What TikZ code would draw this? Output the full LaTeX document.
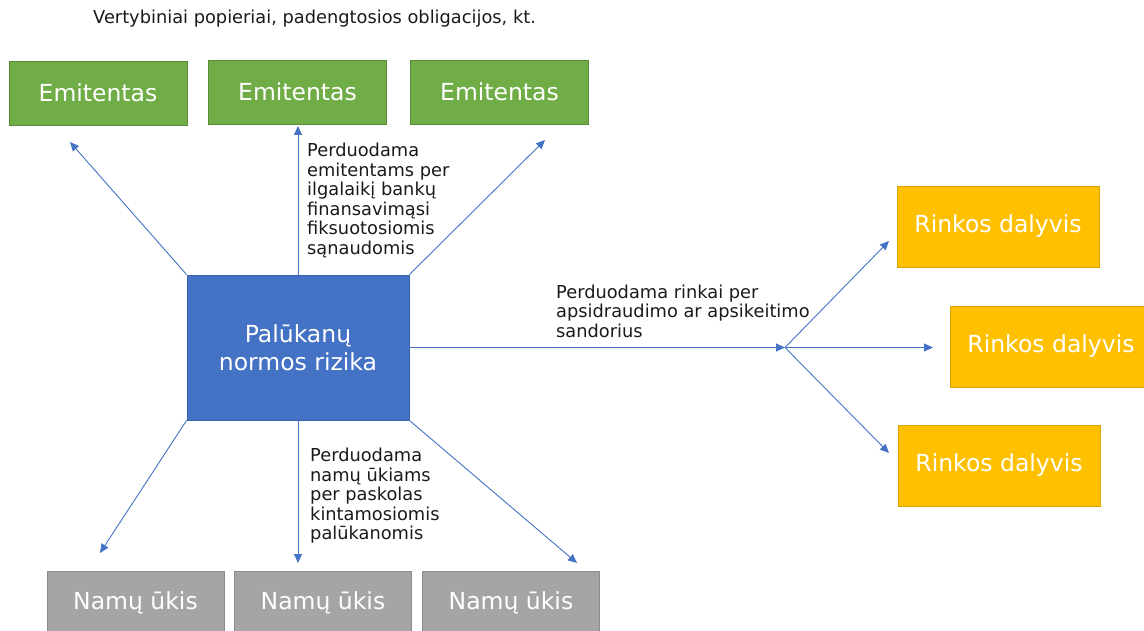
\documentclass[tikz,border=0pt]{standalone}
\usepackage{fontspec}
\setmainfont{DejaVu Sans}
\usepackage{tikz}
\usetikzlibrary{shapes,arrows.meta}
\definecolor{emgreen}{HTML}{70AD47}
\definecolor{riskblue}{HTML}{4472C4}
\definecolor{mktgold}{HTML}{FFC000}
\definecolor{hhgray}{HTML}{A5A5A5}
\definecolor{notetext}{HTML}{1A1A1A}
\tikzstyle{box} = [rectangle, draw, line width=0.8pt, text=white, font=\fontsize{23.5}{28}\selectfont, align=center, inner sep=0pt]
\tikzstyle{issuer} = [box, fill=emgreen, draw=emgreen!80!black, minimum width=178pt, minimum height=64pt]
\tikzstyle{household} = [box, fill=hhgray, draw=hhgray!85!black, minimum width=177pt, minimum height=64pt]
\tikzstyle{market} = [box, fill=mktgold, draw=mktgold!85!black, minimum width=202pt, minimum height=81pt]
\tikzstyle{risk} = [box, fill=riskblue, draw=riskblue!85!black, minimum width=222pt, minimum height=145pt]
\tikzstyle{note} = [font=\fontsize{17.8}{19.5}\selectfont, text=notetext, align=left, inner sep=0pt, anchor=west]
\tikzstyle{line} = [draw, riskblue, line width=0.9pt, -{Triangle[length=9pt,width=8pt]}]

\begin{document}
\begin{tikzpicture}[x=1pt, y=-1pt]
    \clip (0,0) rectangle (1144,631);

    \node [note] (title) at (93,19) {Vertybiniai popieriai, padengtosios obligacijos, kt.};

    \node [issuer] (em1) at (98,93) {Emitentas};
    \node [issuer] (em2) at (297.5,92) {Emitentas};
    \node [issuer] (em3) at (499.5,92) {Emitentas};

    \node [risk] (rate) at (298,347.5) {Palūkanų\\normos rizika};

    \node [market] (mkt1) at (998,226.5) {Rinkos dalyvis};
    \node [market] (mkt2) at (1051,346.5) {Rinkos dalyvis};
    \node [market] (mkt3) at (999,465.5) {Rinkos dalyvis};

    \node [household] (hh1) at (135.5,603) {Namų ūkis};
    \node [household] (hh2) at (323,603) {Namų ūkis};
    \node [household] (hh3) at (511,603) {Namų ūkis};

    \node [note] (fixed) at (307,200.5) {Perduodama\\emitentams per\\ilgalaikį bankų\\finansavimąsi\\fiksuotosiomis\\sąnaudomis};
    \node [note] (hedge) at (556,311) {Perduodama rinkai per\\apsidraudimo ar apsikeitimo\\sandorius};
    \node [note] (floating) at (310,496) {Perduodama\\namų ūkiams\\per paskolas\\kintamosiomis\\palūkanomis};

    \coordinate (split) at (785,347.5);
    \coordinate (toem1) at (70,142);
    \coordinate (toem2) at (298,126);
    \coordinate (toem3) at (545,140);
    \coordinate (tomkt1) at (889,241);
    \coordinate (tomkt2) at (933,347.5);
    \coordinate (tomkt3) at (889,453);
    \coordinate (tohh1) at (100,553);
    \coordinate (tohh2) at (298,563);
    \coordinate (tohh3) at (577,563);

    \path [line] (rate.north west) -- (toem1);
    \path [line] (rate.north) -- (toem2);
    \path [line] (rate.north east) -- (toem3);
    \path [line] (rate.east) -- (split);
    \path [line] (split) -- (tomkt1);
    \path [line] (split) -- (tomkt2);
    \path [line] (split) -- (tomkt3);
    \path [line] (rate.south west) -- (tohh1);
    \path [line] (rate.south) -- (tohh2);
    \path [line] (rate.south east) -- (tohh3);
\end{tikzpicture}
\end{document}
